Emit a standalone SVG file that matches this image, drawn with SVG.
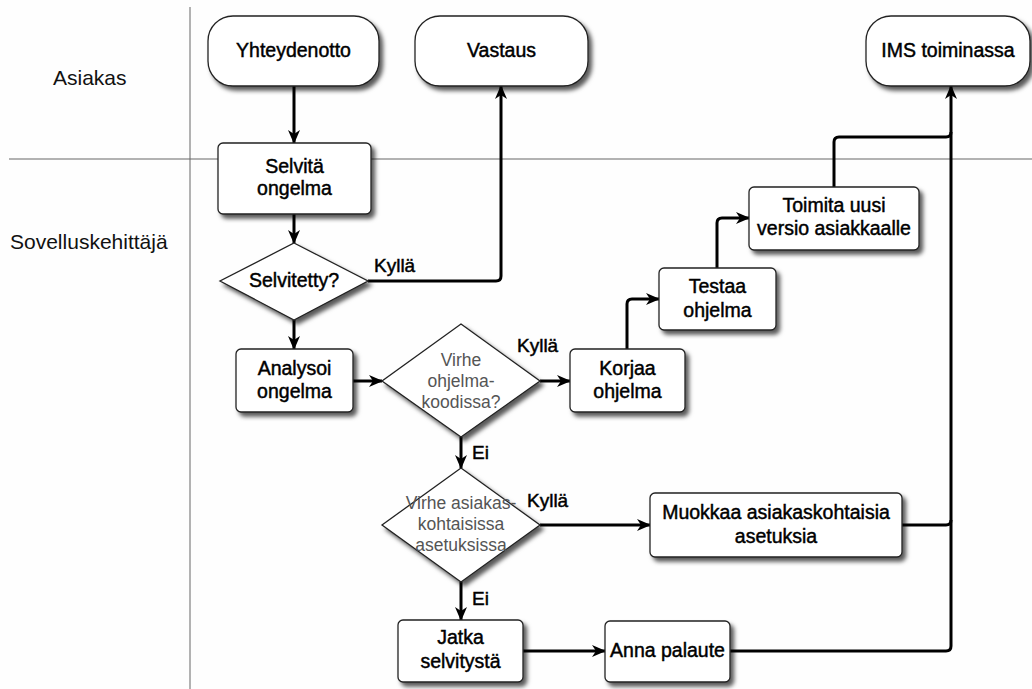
<svg xmlns="http://www.w3.org/2000/svg" width="1032" height="689" viewBox="0 0 1032 689">
<defs>
<style>
.lane{stroke:#666;stroke-width:1;fill:none}
.lanelbl{font-family:"Liberation Sans",Arial,sans-serif;font-size:21px;fill:#111}
.node{fill:#fff;stroke:#222;stroke-width:1.3;filter:url(#sh)}
.t{font-family:"Liberation Sans",Arial,sans-serif;font-size:19.5px;fill:#000;stroke:#000;stroke-width:0.45;text-anchor:middle}
.dt{font-family:"Liberation Sans",Arial,sans-serif;font-size:17.5px;fill:#555;text-anchor:middle}
.lbl{font-family:"Liberation Sans",Arial,sans-serif;font-size:19px;fill:#000;stroke:#000;stroke-width:0.45}
.c{fill:none;stroke:#000;stroke-width:3;stroke-linejoin:round}
.a{marker-end:url(#arr)}
</style>
<filter id="sh" x="-10%" y="-10%" width="130%" height="140%">
<feDropShadow dx="3.5" dy="4" stdDeviation="2" flood-color="#000" flood-opacity="0.65"/>
</filter>
<marker id="arr" viewBox="0 0 14 12" refX="13" refY="6" markerWidth="14" markerHeight="12" markerUnits="userSpaceOnUse" orient="auto">
<path d="M0,0 L14,6 L0,12 L4,6 Z" fill="#000"/>
</marker>
</defs>
<rect width="1032" height="689" fill="#fefefe"/>
<g id="lanes">
<line class="lane" x1="190" y1="7" x2="190" y2="689"/>
<line class="lane" x1="9" y1="159" x2="1032" y2="159"/>
<text class="lanelbl" x="53" y="85">Asiakas</text>
<text class="lanelbl" x="10" y="249">Sovelluskehittäjä</text>
</g>
<g id="connectors">
<path class="c a" d="M294,86 V143"/>
<path class="c a" d="M294,214 V243"/>
<path class="c a" d="M368,281 H496 Q501,281 501,276 V86"/>
<path class="c a" d="M294,320 V349"/>
<path class="c a" d="M353,381 H382"/>
<path class="c a" d="M540,381 H570"/>
<path class="c a" d="M461,437 V468"/>
<path class="c a" d="M540,525 H650"/>
<path class="c a" d="M461,582 V620"/>
<path class="c a" d="M523,651 H605"/>
<path class="c a" d="M627,349 V304 Q627,299 632,299 H659"/>
<path class="c a" d="M717,268 V223 Q717,218 722,218 H749"/>
<path class="c" d="M834,187 V142 Q834,137 839,137 H946 Q951,137 951,132"/>
<path class="c" d="M902,525 H946 Q951,525 951,520"/>
<path class="c a" d="M730,651 H946 Q951,651 951,646 V86"/>
<text class="lbl" x="374" y="272">Kyllä</text>
<text class="lbl" x="517" y="352">Kyllä</text>
<text class="lbl" x="472" y="459">Ei</text>
<text class="lbl" x="527" y="507">Kyllä</text>
<text class="lbl" x="472" y="605">Ei</text>
</g>
<g id="yhteydenotto">
<rect class="node" x="208" y="16" width="171" height="70" rx="25"/>
<text class="t" x="293.5" y="57">Yhteydenotto</text>
</g>
<g id="vastaus">
<rect class="node" x="415" y="16" width="173" height="70" rx="25"/>
<text class="t" x="501.5" y="57">Vastaus</text>
</g>
<g id="ims">
<rect class="node" x="866" y="16" width="164" height="70" rx="25"/>
<text class="t" x="948" y="57">IMS toiminassa</text>
</g>
<g id="selvita">
<rect class="node" x="218" y="143" width="153" height="71" rx="5"/>
<text class="t" x="294.5" y="173">Selvitä</text>
<text class="t" x="294.5" y="195">ongelma</text>
</g>
<g id="selvitetty">
<polygon class="node" points="294,243 368,281 294,320 220,281"/>
<text class="t" x="294" y="287">Selvitetty?</text>
</g>
<g id="analysoi">
<rect class="node" x="236" y="349" width="117" height="63" rx="5"/>
<text class="t" x="294.5" y="375">Analysoi</text>
<text class="t" x="294.5" y="398">ongelma</text>
</g>
<g id="virhe1">
<polygon class="node" points="461,324 540,381 461,437 382,381"/>
<text class="dt" x="461" y="366">Virhe</text>
<text class="dt" x="461" y="387">ohjelma-</text>
<text class="dt" x="461" y="408">koodissa?</text>
</g>
<g id="korjaa">
<rect class="node" x="570" y="349" width="115" height="63" rx="5"/>
<text class="t" x="627.5" y="375">Korjaa</text>
<text class="t" x="627.5" y="398">ohjelma</text>
</g>
<g id="testaa">
<rect class="node" x="659" y="268" width="117" height="62" rx="5"/>
<text class="t" x="717.5" y="293">Testaa</text>
<text class="t" x="717.5" y="317">ohjelma</text>
</g>
<g id="toimita">
<rect class="node" x="749" y="187" width="170" height="63" rx="5"/>
<text class="t" x="834" y="212">Toimita uusi</text>
<text class="t" x="834" y="235">versio asiakkaalle</text>
</g>
<g id="virhe2">
<polygon class="node" points="461,468 540,525 461,582 382,525"/>
<text class="dt" x="461" y="509">Virhe asiakas-</text>
<text class="dt" x="461" y="530">kohtaisissa</text>
<text class="dt" x="461" y="551">asetuksissa</text>
</g>
<g id="muokkaa">
<rect class="node" x="650" y="493" width="252" height="64" rx="5"/>
<text class="t" x="776" y="519">Muokkaa asiakaskohtaisia</text>
<text class="t" x="776" y="543">asetuksia</text>
</g>
<g id="jatka">
<rect class="node" x="398" y="620" width="125" height="62" rx="5"/>
<text class="t" x="460.5" y="644">Jatka</text>
<text class="t" x="460.5" y="668">selvitystä</text>
</g>
<g id="anna">
<rect class="node" x="605" y="621" width="125" height="61" rx="5"/>
<text class="t" x="667.5" y="657">Anna palaute</text>
</g>
</svg>
